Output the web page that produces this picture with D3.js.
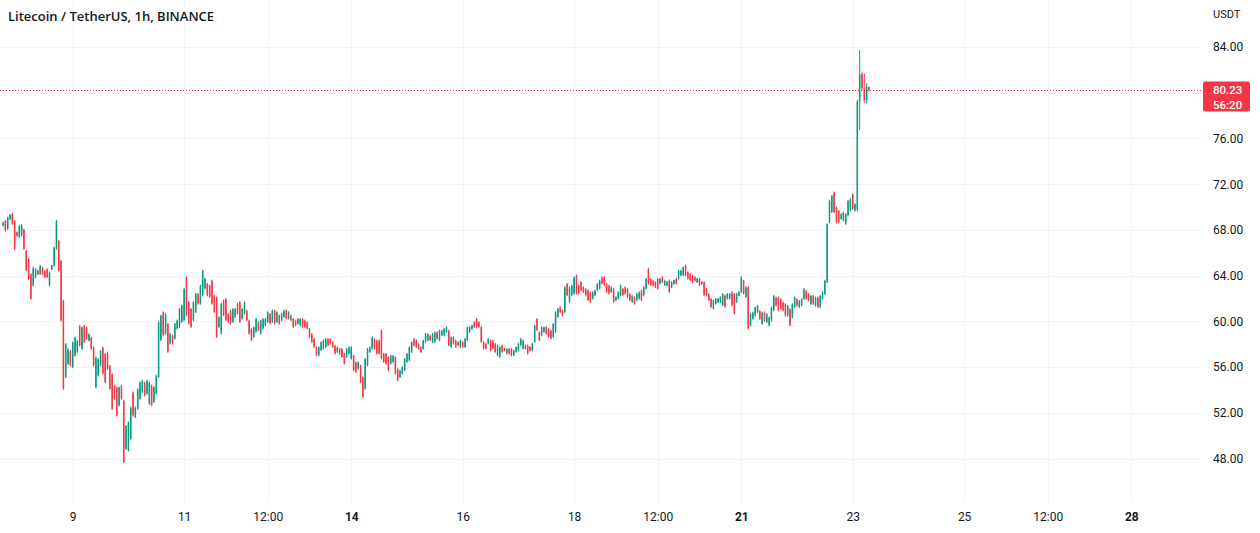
<!DOCTYPE html>
<html>
<head>
<meta charset="utf-8">
<script src="https://cdn.jsdelivr.net/npm/d3@7"></script>
<style>
  html, body { margin: 0; padding: 0; background: #fff; }
  svg { display: block; font-family: Roboto, "Noto Sans", sans-serif; }
</style>
</head>
<body>
<svg class="chart" width="1260" height="533"></svg>
<script>
// hourly candles, [open, high, low, close], one array per day
const nov07 = [
  [68.39, 68.73, 68.29, 68.63], [68.77, 68.87, 67.85, 67.95], [68.1, 69.17, 68.0, 69.07],
  [68.95, 69.4, 68.85, 69.3], [69.4, 69.5, 68.44, 68.54], [68.77, 68.87, 66.25, 66.35]
]
const nov08 = [
  [67.8, 67.85, 67.42, 67.47], [67.37, 68.44, 67.27, 68.34], [67.52, 68.5, 67.42, 68.4],
  [68.0, 68.1, 66.25, 66.35], [66.2, 66.25, 64.36, 64.46], [65.42, 65.52, 63.63, 63.73],
  [64.11, 64.21, 61.88, 61.98], [63.14, 64.79, 63.04, 64.69], [63.87, 64.65, 63.77, 64.55],
  [64.45, 64.5, 64.06, 64.11], [64.16, 64.94, 64.06, 64.84], [64.69, 64.79, 64.06, 64.16],
  [64.4, 64.5, 63.77, 63.87], [64.55, 64.65, 63.77, 63.87], [63.14, 64.36, 63.04, 64.26],
  [64.55, 64.94, 64.5, 64.89], [64.89, 66.54, 64.79, 66.44], [66.35, 68.87, 66.25, 68.77],
  [67.03, 67.13, 64.36, 64.46], [65.28, 65.38, 59.98, 60.08], [61.78, 61.88, 54.01, 54.11],
  [55.13, 58.09, 55.03, 57.99], [56.29, 57.65, 56.19, 57.55], [57.4, 57.5, 56.05, 56.15]
]
const nov09 = [
  [56.0, 58.23, 55.9, 58.13], [57.02, 58.67, 56.92, 58.57], [57.31, 58.38, 57.21, 58.28],
  [59.59, 59.69, 57.8, 57.9], [57.6, 59.55, 57.5, 59.45], [59.59, 59.69, 58.09, 58.19],
  [59.45, 59.55, 58.38, 58.48], [58.33, 58.96, 58.23, 58.86], [58.57, 58.67, 57.5, 57.6],
  [57.7, 57.8, 56.05, 56.15], [54.25, 56.92, 54.15, 56.82], [55.27, 56.78, 55.17, 56.68],
  [56.15, 57.5, 56.05, 57.4], [57.7, 57.8, 55.32, 55.42], [57.11, 57.21, 54.59, 54.69],
  [57.26, 57.36, 55.76, 55.86], [56.09, 56.19, 54.01, 54.11], [55.36, 55.46, 52.26, 52.36],
  [54.34, 54.44, 53.13, 53.23], [54.2, 54.3, 51.67, 51.77], [52.65, 54.3, 52.55, 54.2],
  [54.34, 54.44, 53.13, 53.23], [53.03, 53.13, 47.59, 47.69], [48.86, 50.94, 48.76, 50.84]
]
const nov10 = [
  [48.71, 51.24, 48.61, 51.14], [49.73, 52.55, 49.63, 52.45], [53.76, 53.86, 51.67, 51.77],
  [51.63, 52.55, 51.53, 52.45], [52.36, 54.15, 52.26, 54.05], [53.23, 54.73, 53.13, 54.63],
  [53.81, 54.88, 53.71, 54.78], [54.63, 54.73, 53.42, 53.52], [53.67, 54.88, 53.57, 54.78],
  [52.79, 54.73, 52.69, 54.63], [54.37, 54.47, 52.57, 52.67], [52.96, 54.32, 52.86, 54.22],
  [53.69, 55.34, 53.59, 55.24], [55.15, 60.01, 55.05, 59.91], [58.36, 60.59, 58.26, 60.49],
  [60.78, 60.88, 58.69, 58.79], [58.94, 60.73, 58.84, 60.63], [59.76, 59.86, 57.24, 57.34],
  [58.06, 58.99, 57.96, 58.89], [58.74, 58.84, 57.96, 58.06], [58.5, 59.86, 58.4, 59.76],
  [59.38, 60.15, 59.28, 60.05], [59.52, 61.17, 59.42, 61.07], [59.96, 61.46, 59.86, 61.36]
]
const nov11 = [
  [60.11, 62.92, 60.01, 62.82], [63.84, 63.94, 60.44, 60.54], [61.66, 61.76, 59.71, 59.81],
  [61.07, 61.17, 59.42, 59.52], [60.11, 61.76, 60.01, 61.66], [60.83, 62.48, 60.73, 62.38],
  [62.38, 62.48, 61.46, 61.56], [61.56, 63.21, 61.46, 63.11], [62.29, 64.52, 62.19, 64.42],
  [62.88, 63.8, 62.78, 63.7], [63.26, 63.36, 62.19, 62.29], [63.11, 63.21, 62.05, 62.15],
  [63.55, 63.65, 61.46, 61.56], [62.24, 62.34, 60.73, 60.83], [62.09, 62.19, 58.55, 58.65],
  [59.52, 60.44, 59.42, 60.34], [58.94, 61.61, 58.84, 61.51], [61.8, 61.9, 60.44, 60.54],
  [61.95, 62.05, 60.01, 60.11], [60.63, 60.73, 59.86, 59.96], [60.93, 61.03, 59.71, 59.81],
  [59.96, 61.17, 59.86, 61.07], [60.4, 61.17, 60.3, 61.07], [61.51, 61.61, 60.59, 60.69]
]
const nov12 = [
  [61.66, 61.76, 59.86, 59.96], [60.25, 61.17, 60.15, 61.07], [60.69, 61.76, 60.59, 61.66],
  [60.93, 61.03, 60.01, 60.11], [60.05, 60.15, 58.84, 58.94], [59.32, 59.42, 58.26, 58.36],
  [58.65, 59.57, 58.55, 59.47], [59.09, 60.3, 58.99, 60.2], [59.91, 60.01, 59.13, 59.23],
  [58.94, 60.15, 58.84, 60.05], [59.38, 60.3, 59.28, 60.2], [59.67, 60.3, 59.57, 60.2],
  [59.96, 60.88, 59.86, 60.78], [60.63, 60.73, 59.71, 59.81], [59.96, 61.03, 59.86, 60.93],
  [60.93, 61.03, 59.71, 59.81], [59.96, 60.88, 59.86, 60.78], [60.49, 60.59, 59.71, 59.81],
  [60.11, 60.73, 60.01, 60.63], [60.4, 61.03, 60.3, 60.93], [60.93, 61.03, 60.15, 60.25],
  [60.25, 60.88, 60.15, 60.78], [60.49, 60.59, 60.01, 60.11], [60.2, 60.3, 59.42, 59.52]
]
const nov13 = [
  [60.05, 60.15, 59.57, 59.67], [59.81, 60.3, 59.71, 60.2], [59.67, 60.3, 59.57, 60.2],
  [60.19, 60.29, 59.42, 59.52], [60.05, 60.15, 59.42, 59.52], [59.9, 60.0, 59.27, 59.37],
  [59.32, 59.42, 58.54, 58.64], [58.88, 58.98, 58.1, 58.2], [58.44, 58.54, 57.67, 57.77],
  [57.71, 57.81, 56.94, 57.04], [57.04, 57.81, 56.94, 57.71], [57.48, 58.25, 57.38, 58.15],
  [57.62, 58.4, 57.52, 58.3], [57.77, 58.54, 57.67, 58.44], [58.44, 58.54, 57.81, 57.91],
  [58.44, 58.54, 57.96, 58.06], [58.15, 58.25, 57.67, 57.77], [57.86, 57.96, 57.08, 57.18],
  [57.33, 57.81, 57.23, 57.71], [57.57, 57.67, 57.08, 57.18], [57.57, 57.67, 56.79, 56.89],
  [57.13, 57.23, 56.21, 56.31], [56.89, 57.67, 56.79, 57.57], [57.18, 57.81, 57.08, 57.71]
]
const nov14 = [
  [56.75, 57.81, 56.65, 57.71], [56.98, 57.08, 55.63, 55.73], [56.4, 56.5, 55.48, 55.58],
  [55.87, 56.5, 55.77, 56.4], [56.11, 56.21, 54.61, 54.71], [55.09, 55.19, 53.29, 53.39],
  [54.12, 56.79, 54.02, 56.69], [56.16, 57.67, 56.06, 57.57], [57.33, 57.81, 57.23, 57.71],
  [57.62, 58.69, 57.52, 58.59], [58.44, 58.54, 57.52, 57.62], [58.3, 58.4, 57.08, 57.18],
  [58.3, 58.4, 57.08, 57.18], [59.17, 59.27, 56.65, 56.75], [57.13, 57.23, 56.36, 56.46],
  [57.13, 57.23, 56.21, 56.31], [56.84, 56.94, 55.63, 55.73], [56.31, 57.08, 56.21, 56.98],
  [56.46, 57.08, 56.36, 56.98], [56.84, 56.94, 55.34, 55.44], [55.82, 55.92, 54.75, 54.85],
  [55.14, 55.77, 55.04, 55.67], [55.44, 56.06, 55.34, 55.96], [55.73, 56.79, 55.63, 56.69]
]
const nov15 = [
  [56.46, 57.23, 56.36, 57.13], [56.6, 57.81, 56.5, 57.71], [57.33, 58.25, 57.23, 58.15],
  [58.44, 58.54, 57.81, 57.91], [58.3, 58.4, 57.67, 57.77], [58.0, 58.1, 57.52, 57.62],
  [57.71, 57.81, 57.23, 57.33], [57.62, 58.4, 57.52, 58.3], [58.2, 58.98, 58.1, 58.88],
  [58.35, 58.98, 58.25, 58.88], [58.73, 58.83, 58.25, 58.35], [58.2, 58.98, 58.1, 58.88],
  [58.2, 59.13, 58.1, 59.03], [59.03, 59.13, 58.4, 58.5], [58.35, 59.27, 58.25, 59.17],
  [58.79, 59.27, 58.69, 59.17], [58.79, 59.42, 58.69, 59.32], [59.08, 59.56, 58.98, 59.46],
  [59.17, 59.27, 57.81, 57.91], [57.77, 58.69, 57.67, 58.59], [58.59, 58.69, 57.96, 58.06],
  [58.3, 58.4, 57.67, 57.77], [58.16, 58.26, 57.82, 57.92], [57.77, 58.4, 57.67, 58.3]
]
const nov16 = [
  [58.16, 58.26, 57.67, 57.77], [57.77, 58.55, 57.67, 58.45], [58.36, 59.57, 58.26, 59.47],
  [59.09, 59.57, 58.99, 59.47], [59.33, 59.71, 59.28, 59.66], [59.91, 60.01, 59.42, 59.52],
  [60.2, 60.3, 59.42, 59.52], [59.91, 60.01, 59.42, 59.52], [59.47, 59.57, 58.12, 58.22],
  [58.16, 58.26, 57.53, 57.63], [58.02, 58.12, 57.53, 57.63], [58.06, 58.55, 57.96, 58.45],
  [58.3, 58.4, 57.38, 57.48], [58.3, 58.4, 57.53, 57.63], [58.02, 58.12, 57.24, 57.34],
  [57.04, 57.96, 56.94, 57.86], [56.9, 57.82, 56.8, 57.72], [57.86, 57.96, 57.24, 57.34],
  [57.62, 57.67, 57.38, 57.43], [57.19, 57.67, 57.09, 57.57], [57.57, 57.67, 57.09, 57.19],
  [57.57, 57.67, 56.94, 57.04], [57.04, 57.53, 56.94, 57.43], [57.34, 57.82, 57.24, 57.72]
]
const nov17 = [
  [57.48, 58.12, 57.38, 58.02], [57.92, 58.55, 57.82, 58.45], [57.63, 58.4, 57.53, 58.3],
  [57.91, 57.96, 57.53, 57.58], [57.86, 57.96, 57.09, 57.19], [57.77, 57.82, 57.38, 57.43],
  [57.48, 58.12, 57.38, 58.02], [58.22, 59.71, 58.12, 59.61], [60.2, 60.3, 59.13, 59.23],
  [59.03, 59.13, 58.26, 58.36], [58.79, 59.57, 58.69, 59.47], [59.09, 59.57, 58.99, 59.47],
  [59.47, 59.57, 58.84, 58.94], [59.32, 59.42, 58.55, 58.65], [59.18, 59.28, 58.4, 58.5],
  [58.65, 59.86, 58.55, 59.76], [59.09, 60.88, 58.99, 60.78], [60.4, 61.17, 60.3, 61.07],
  [61.22, 61.32, 60.73, 60.83], [60.93, 61.03, 60.44, 60.54], [60.83, 63.07, 60.73, 62.97],
  [63.26, 63.36, 62.19, 62.29], [61.71, 63.07, 61.61, 62.97], [62.29, 63.21, 62.19, 63.11]
]
const nov18 = [
  [62.44, 63.94, 62.34, 63.84], [63.99, 64.09, 62.34, 62.44], [63.11, 63.21, 62.34, 62.44],
  [63.41, 63.51, 62.63, 62.73], [62.97, 63.07, 62.48, 62.58], [62.82, 62.92, 62.19, 62.29],
  [62.68, 62.78, 61.76, 61.86], [62.53, 62.63, 61.61, 61.71], [62.0, 62.63, 61.9, 62.53],
  [62.29, 62.78, 62.19, 62.68], [62.73, 63.36, 62.63, 63.26], [62.88, 63.65, 62.78, 63.55],
  [63.84, 63.94, 63.21, 63.31], [63.84, 63.94, 63.07, 63.17], [63.26, 63.36, 62.48, 62.58],
  [63.11, 63.21, 62.34, 62.44], [62.58, 63.07, 62.48, 62.97], [62.82, 62.92, 61.61, 61.71],
  [61.81, 62.19, 61.76, 62.14], [62.0, 62.63, 61.9, 62.53], [62.29, 63.21, 62.19, 63.11],
  [62.82, 62.92, 62.19, 62.29], [62.97, 63.07, 62.34, 62.44], [62.82, 62.92, 62.05, 62.15]
]
const nov19 = [
  [62.38, 62.48, 61.76, 61.86], [61.71, 62.34, 61.61, 62.24], [62.09, 62.19, 61.46, 61.56],
  [61.86, 62.48, 61.76, 62.38], [62.0, 62.63, 61.9, 62.53], [62.68, 62.78, 61.76, 61.86],
  [62.29, 63.07, 62.19, 62.97], [62.88, 63.8, 62.78, 63.7], [64.57, 64.67, 63.21, 63.31],
  [63.7, 63.8, 63.07, 63.17], [63.55, 63.65, 63.07, 63.17], [63.41, 63.51, 62.92, 63.02],
  [63.7, 63.8, 62.78, 62.88], [63.31, 63.8, 63.21, 63.7], [63.84, 63.94, 63.36, 63.46],
  [63.17, 63.65, 63.07, 63.55], [63.12, 63.51, 63.07, 63.46], [63.55, 63.65, 62.48, 62.58],
  [63.02, 63.51, 62.92, 63.41], [63.26, 63.65, 63.21, 63.6], [63.7, 63.8, 63.21, 63.31],
  [63.75, 64.52, 63.65, 64.42], [64.04, 64.52, 63.94, 64.42], [64.04, 64.81, 63.94, 64.71]
]
const nov20 = [
  [64.86, 64.96, 63.94, 64.04], [64.28, 64.38, 63.65, 63.75], [64.13, 64.23, 63.51, 63.61],
  [63.99, 64.09, 63.36, 63.46], [63.89, 63.94, 63.51, 63.56], [63.41, 63.8, 63.36, 63.75],
  [63.7, 63.8, 63.07, 63.17], [63.46, 63.51, 63.21, 63.26], [63.41, 63.51, 62.19, 62.29],
  [62.82, 62.92, 62.19, 62.29], [62.38, 62.48, 61.76, 61.86], [61.95, 62.05, 61.17, 61.27],
  [61.13, 61.9, 61.03, 61.8], [61.56, 62.05, 61.46, 61.95], [61.66, 62.05, 61.61, 62.0],
  [61.71, 62.19, 61.61, 62.09], [61.42, 62.48, 61.32, 62.38], [62.24, 62.34, 61.17, 61.27],
  [62.0, 62.48, 61.9, 62.38], [62.0, 62.48, 61.9, 62.38], [62.53, 62.63, 61.32, 61.42],
  [62.38, 62.48, 60.59, 60.69], [61.71, 62.48, 61.61, 62.38], [62.24, 62.63, 62.19, 62.58]
]
const nov21 = [
  [62.58, 63.94, 62.48, 63.84], [63.55, 63.65, 62.34, 62.44], [62.15, 63.07, 62.05, 62.97],
  [62.97, 63.07, 59.28, 59.38], [59.64, 60.71, 59.54, 60.61], [60.23, 60.86, 60.13, 60.76],
  [60.52, 61.29, 60.42, 61.19], [60.81, 61.44, 60.71, 61.34], [60.9, 61.0, 60.13, 60.23],
  [59.79, 60.86, 59.69, 60.76], [60.76, 60.86, 59.98, 60.08], [59.94, 60.71, 59.84, 60.61],
  [59.65, 60.42, 59.55, 60.32], [60.08, 61.29, 59.98, 61.19], [60.96, 62.31, 60.86, 62.21],
  [62.07, 62.17, 61.29, 61.39], [62.07, 62.17, 60.86, 60.96], [61.92, 62.02, 61.0, 61.1],
  [61.63, 61.73, 60.86, 60.96], [61.49, 61.59, 60.42, 60.52], [60.52, 61.44, 60.42, 61.34],
  [61.05, 61.15, 59.55, 59.65], [60.37, 61.59, 60.27, 61.49], [61.25, 62.17, 61.15, 62.07]
]
const nov22 = [
  [61.92, 62.02, 61.29, 61.39], [61.25, 61.88, 61.15, 61.78], [61.39, 62.02, 61.29, 61.92],
  [61.98, 62.9, 61.88, 62.8], [62.65, 62.75, 61.88, 61.98], [62.36, 62.46, 61.73, 61.83],
  [61.54, 62.31, 61.44, 62.21], [62.21, 62.31, 61.44, 61.54], [61.39, 62.17, 61.29, 62.07],
  [62.07, 62.17, 61.15, 61.25], [61.25, 62.31, 61.15, 62.21], [61.98, 62.61, 61.88, 62.51],
  [62.41, 63.63, 62.31, 63.53], [63.44, 68.58, 63.34, 68.48], [68.68, 70.62, 68.58, 70.52],
  [69.56, 71.06, 69.46, 70.96], [71.25, 71.35, 69.46, 69.56], [69.94, 70.04, 68.58, 68.68],
  [69.65, 69.75, 68.58, 68.68], [68.97, 69.46, 68.87, 69.36], [68.83, 69.6, 68.73, 69.5],
  [68.54, 69.46, 68.44, 69.36], [69.27, 70.62, 69.17, 70.52], [69.7, 70.77, 69.6, 70.67]
]
const nov23 = [
  [71.11, 71.21, 69.75, 69.85], [69.7, 70.33, 69.6, 70.23], [69.8, 79.4, 69.6, 79.2],
  [79.2, 83.74, 76.75, 81.6], [81.6, 81.84, 80.2, 80.4], [80.4, 81.7, 79.08, 79.3],
  [79.3, 80.83, 79.08, 80.5], [80.5, 80.53, 80.09, 80.23]
]

const firstBar = new Date(2022, 10, 7, 18)
const lastPrice = 80.23
const countdown = "56:20"

const priceTicks = [48, 52, 56, 60, 64, 68, 72, 76, 80, 84]
const timeTickDates = [
  new Date(2022, 10, 9), new Date(2022, 10, 11), new Date(2022, 10, 12, 12),
  new Date(2022, 10, 14), new Date(2022, 10, 16), new Date(2022, 10, 18),
  new Date(2022, 10, 19, 12), new Date(2022, 10, 21), new Date(2022, 10, 23),
  new Date(2022, 10, 25), new Date(2022, 10, 26, 12), new Date(2022, 10, 28)
]
const timeTickLabels = ["9", "11", "12:00", "14", "16", "18", "12:00", "21", "23", "25", "12:00", "28"]
const boldLabels = ["14", "21", "28"]

const upColor = "#089981"
const downColor = "#f23645"
const gridColor = "#f0f3fa"
const textColor = "#131722"

const days = [nov07, nov08, nov09, nov10, nov11, nov12, nov13, nov14, nov15,
  nov16, nov17, nov18, nov19, nov20, nov21, nov22, nov23]
const candles = days.flat().map((d, k) => ({
  t: d3.timeHour.offset(firstBar, k), o: d[0], h: d[1], l: d[2], c: d[3]
}))

const plotRight = 1201
const plotBottom = 503

const x = d3.scaleTime()
  .domain([new Date(2022, 10, 9), new Date(2022, 10, 23)])
  .range([72.7, 852.7])
const y = d3.scaleLinear().domain([48, 84]).range([458.5, 47])

const svg = d3.select("svg.chart")

// grid
svg.append("g").selectAll("line")
  .data(priceTicks)
  .join("line")
  .attr("x1", 0).attr("x2", plotRight)
  .attr("y1", d => Math.round(y(d)) + 0.5).attr("y2", d => Math.round(y(d)) + 0.5)
  .attr("stroke", gridColor)

svg.append("g").selectAll("line")
  .data(timeTickDates)
  .join("line")
  .attr("x1", d => Math.round(x(d)) + 0.5).attr("x2", d => Math.round(x(d)) + 0.5)
  .attr("y1", 0).attr("y2", plotBottom)
  .attr("stroke", gridColor)

// candles
const bars = svg.append("g").selectAll("g")
  .data(candles)
  .join("g")
  .attr("fill", d => d.c >= d.o ? upColor : downColor)
  .attr("stroke", d => d.c >= d.o ? upColor : downColor)

bars.append("line")
  .attr("x1", d => x(d.t)).attr("x2", d => x(d.t))
  .attr("y1", d => y(d.h)).attr("y2", d => y(d.l))
  .attr("stroke-width", 1)

bars.append("rect")
  .attr("stroke", "none")
  .attr("x", d => x(d.t) - 0.75)
  .attr("width", 1.5)
  .attr("y", d => y(Math.max(d.o, d.c)))
  .attr("height", d => Math.max(1, y(Math.min(d.o, d.c)) - y(Math.max(d.o, d.c))))

// last price line
const last = candles[candles.length - 1]
const lastColor = last.c >= last.o ? upColor : downColor
svg.append("line")
  .attr("x1", 0).attr("x2", 1203)
  .attr("y1", Math.round(y(lastPrice)) + 0.5).attr("y2", Math.round(y(lastPrice)) + 0.5)
  .attr("stroke", lastColor)
  .attr("stroke-dasharray", "1,2")

// price scale; the label under the last-price tag is hidden, like the original
const ly = y(lastPrice)
const yAxis = svg.append("g")
  .attr("transform", "translate(1206,0)")
  .call(d3.axisRight(y)
    .tickValues(priceTicks.filter(d => Math.abs(y(d) - (ly + 6.5)) > 22))
    .tickFormat(d3.format(".2f")).tickSize(0).tickPadding(7))
yAxis.select(".domain").remove()
yAxis.selectAll("text").attr("fill", textColor).attr("font-size", 12)
  .attr("font-family", "Roboto, sans-serif")

svg.append("text")
  .attr("x", 1213).attr("y", 18)
  .attr("font-size", 11).attr("fill", textColor)
  .text("USDT")

// last price tag
svg.append("rect")
  .attr("x", 1203).attr("y", ly - 8.5)
  .attr("width", 47).attr("height", 30)
  .attr("rx", 2)
  .attr("fill", lastColor)
svg.append("text")
  .attr("x", 1213).attr("y", ly + 4)
  .attr("font-size", 11.5).attr("font-weight", 500).attr("fill", "#fff")
  .text(d3.format(".2f")(lastPrice))
svg.append("text")
  .attr("x", 1213).attr("y", ly + 18.5)
  .attr("font-size", 11.5).attr("font-weight", 500).attr("fill", "#fff")
  .text(countdown)

// time scale
const xAxis = svg.append("g")
  .attr("transform", `translate(0,${plotBottom})`)
  .call(d3.axisBottom(x).tickValues(timeTickDates).tickFormat((d, i) => timeTickLabels[i]).tickSize(0).tickPadding(9))
xAxis.select(".domain").remove()
xAxis.selectAll("text")
  .attr("fill", textColor).attr("font-size", 12)
  .attr("font-family", "Roboto, sans-serif")
  .attr("font-weight", (d, i) => boldLabels.includes(timeTickLabels[i]) ? 700 : 400)

// title
svg.append("text")
  .attr("x", 8).attr("y", 21)
  .attr("font-family", "'Open Sans', sans-serif")
  .attr("font-size", 13).attr("font-weight", 600).attr("fill", textColor)
  .text("Litecoin / TetherUS, 1h, BINANCE")
</script>
</body>
</html>
